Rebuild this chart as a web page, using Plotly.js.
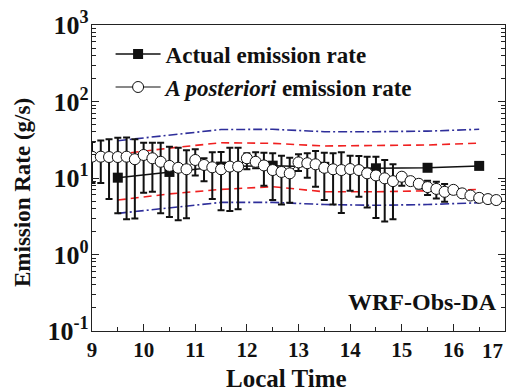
<!DOCTYPE html>
<html>
<head>
<meta charset="utf-8">
<script src="https://cdn.plot.ly/plotly-3.0.1.min.js"></script>
<style>html,body{margin:0;padding:0;background:#fff;}#chart{width:511px;height:391px;}</style>
</head>
<body>
<div id="chart"></div>
<script>
// Actual emission rate (hourly)
const timeActual = [9.5, 10.5, 11.5, 12.5, 13.5, 14.5, 15.5, 16.5];
const actualRate = [10.1, 12.0, 14.1, 14.5, 14.0, 13.4, 13.6, 14.4];

// A posteriori emission rate (10-min)
const timePost = [9.00, 9.17, 9.33, 9.50, 9.67, 9.83, 10.00, 10.17, 10.33, 10.50, 10.67, 10.83,
  11.00, 11.17, 11.33, 11.50, 11.67, 11.83, 12.00, 12.17, 12.33, 12.50, 12.67, 12.83,
  13.00, 13.17, 13.33, 13.50, 13.67, 13.83, 14.00, 14.17, 14.33, 14.50, 14.67, 14.83,
  15.00, 15.17, 15.33, 15.50, 15.67, 15.83, 16.00, 16.17, 16.33, 16.50, 16.67, 16.83];
const postRate = [19.0, 19.0, 18.8, 18.8, 19.0, 17.6, 20.0, 18.1, 16.3, 14.4, 13.6, 13.0,
  17.2, 14.8, 13.8, 13.0, 14.1, 14.1, 18.1, 16.3, 14.6, 12.7, 12.0, 11.5,
  16.0, 15.6, 15.1, 13.6, 13.0, 12.7, 13.1, 12.7, 11.5, 10.8, 9.9, 9.1,
  10.4, 9.1, 8.4, 7.6, 7.2, 6.6, 7.0, 6.3, 5.9, 5.5, 5.3, 5.15];
const postUpper = [29.5, 31, 32, 33.6, 33.8, 32, 28.9, 29, 29, 25.7, 24.9, 23,
  23.7, 18.1, 21.7, 21.9, 24.9, 24.9, 21, 21.7, 21.4, 21, 19.6, 18.4,
  20.4, 21, 22.5, 21.4, 21, 21.7, 19.6, 19.4, 19.0, 19.0, 17.2, 15.1,
  11.5, 10.1, 9.1, 9.2, 8.95, 8.35, 7.0, 6.3, 5.9, 5.5, 5.3, 5.15];
const postLower = [8.6, 8.6, 5.3, 3.45, 2.9, 2.95, 6.4, 6.6, 3.45, 3.1, 2.8, 2.97,
  10.8, 9.1, 5.3, 3.8, 3.7, 3.9, 13, 13.4, 7.9, 5.15, 4.5, 4.75,
  12.3, 10.1, 7.7, 5.15, 4.5, 3.5, 6.8, 5.7, 4.1, 3.0, 2.7, 2.9,
  7.9, 8.35, 7.3, 6.0, 5.4, 4.9, 7.0, 6.3, 5.9, 5.5, 5.3, 5.15];

// Envelope lines (hourly)
const timeEnv = [9.5, 10.5, 11.5, 12.5, 13.5, 14.5, 15.5, 16.5];
const blueUpper = [30.7, 36.5, 43, 43.3, 40.3, 40.3, 41, 43.3];
const redUpper = [20.4, 24.6, 28.9, 28.4, 26.2, 26.4, 27, 28.6];
const redLower = [5.15, 6.2, 7.1, 7.7, 6.6, 6.6, 6.8, 7.1];
const blueLower = [3.45, 4.05, 4.8, 4.8, 4.5, 4.4, 4.5, 4.75];

// Axis ticks
const xTicks = [9, 10, 11, 12, 13, 14, 15, 16, 17];
const xTickText = ['9', '10', '11', '12', '13', '14', '15', '16', ''];
const xLastLabel = '17';
const yTickVals = [0.1, 1, 10, 100, 1000];
const yTickText = ['10<sup>-1</sup>', '10<sup>0</sup>', '10<sup>1</sup>', '10<sup>2</sup>', '10<sup>3</sup>'];

const FONT = 'Liberation Serif, Times New Roman, serif';
const BLUE = '#2e2e9a';
const RED = '#f02020';

const yMinor = [];
[0.1, 1, 10, 100].forEach(d => { for (let k = 2; k <= 9; k++) yMinor.push(d * k); });

const envTrace = (y, color, dash) => ({
  x: timeEnv, y: y, mode: 'lines', showlegend: false, hoverinfo: 'skip',
  line: {color: color, width: 1.6, dash: dash}
});

const traces = [
  envTrace(blueUpper, BLUE, '9px,3px,2px,3px'),
  envTrace(redUpper, RED, '8px,5px'),
  envTrace(redLower, RED, '8px,5px'),
  envTrace(blueLower, BLUE, '9px,3px,2px,3px'),
  {
    x: timeActual, y: actualRate, mode: 'lines+markers', name: '<b>Actual emission rate</b>',
    legendgroup: 'a',
    line: {color: '#111', width: 1.5},
    marker: {symbol: 'square', size: 10, color: '#111'}
  },
  {
    x: timePost, y: postRate, mode: 'lines+markers', name: '<b><i>A posteriori</i> emission rate</b>',
    legendgroup: 'b',
    line: {color: '#111', width: 1},
    marker: {symbol: 'circle', size: 11, color: '#fff', line: {color: '#111', width: 1}},
    error_y: {
      type: 'data', symmetric: false,
      array: postUpper.map((u, i) => u - postRate[i]),
      arrayminus: postLower.map((l, i) => postRate[i] - l),
      color: '#111', thickness: 2, width: 3.5
    }
  }
];

const layout = {
  width: 511, height: 391,
  margin: {l: 92, r: 6, t: 25, b: 60},
  paper_bgcolor: '#fff', plot_bgcolor: '#fff',
  font: {family: FONT, color: '#111', size: 17},
  showlegend: true,
  legend: {
    x: 0.045, y: 0.975, xanchor: 'left', yanchor: 'top',
    bgcolor: 'rgba(0,0,0,0)', borderwidth: 0,
    font: {family: FONT, size: 23, color: '#111'},
    traceorder: 'grouped', tracegroupgap: 0, itemwidth: 45
  },
  xaxis: {
    range: [9, 17], tickvals: xTicks, ticktext: xTickText,
    ticks: 'inside', ticklen: 7, tickwidth: 1, tickcolor: '#222',
    minor: {ticks: 'inside', ticklen: 4, dtick: 0.5, tickcolor: '#222'},
    showline: true, linecolor: '#222', linewidth: 1.2, mirror: true,
    showgrid: false, zeroline: false,
    tickfont: {family: FONT, size: 21, weight: 'bold'}
  },
  yaxis: {
    type: 'log', range: [-1, 3],
    tickvals: yTickVals, ticktext: yTickText,
    ticks: 'inside', ticklen: 7, tickwidth: 1, tickcolor: '#222',
    ticklabelstandoff: -3,
    minor: {ticks: 'inside', ticklen: 4, tickvals: yMinor, tickcolor: '#222'},
    showline: true, linecolor: '#222', linewidth: 1.2, mirror: 'ticks',
    showgrid: false, zeroline: false,
    tickfont: {family: FONT, size: 26, weight: 'bold'}
  },
  annotations: [
    {
      xref: 'paper', yref: 'paper', x: 0.985, y: 0.095, xanchor: 'right', yanchor: 'middle',
      text: '<b>WRF-Obs-DA</b>', showarrow: false,
      font: {family: FONT, size: 24, color: '#111'}
    },
    {
      xref: 'x', yref: 'paper', x: 17, y: 0, xanchor: 'right', yanchor: 'top', yshift: -6,
      text: '<b>' + xLastLabel + '</b>', showarrow: false,
      font: {family: FONT, size: 21, color: '#111'}
    },
    {
      xref: 'paper', yref: 'paper', x: (286 - 92) / 413, y: 0, xanchor: 'center', yanchor: 'middle',
      yshift: -47,
      text: '<b>Local Time</b>', showarrow: false,
      font: {family: FONT, size: 25, color: '#111'}
    },
    {
      xref: 'paper', yref: 'paper', x: 0, y: (331 - 193) / 306, xanchor: 'center', yanchor: 'middle',
      xshift: -70, textangle: -90,
      text: '<b>Emission Rate (g/s)</b>', showarrow: false,
      font: {family: FONT, size: 23, color: '#111'}
    }
  ]
};

Plotly.newPlot('chart', traces, layout, {displayModeBar: false, staticPlot: true});
</script>
</body>
</html>
